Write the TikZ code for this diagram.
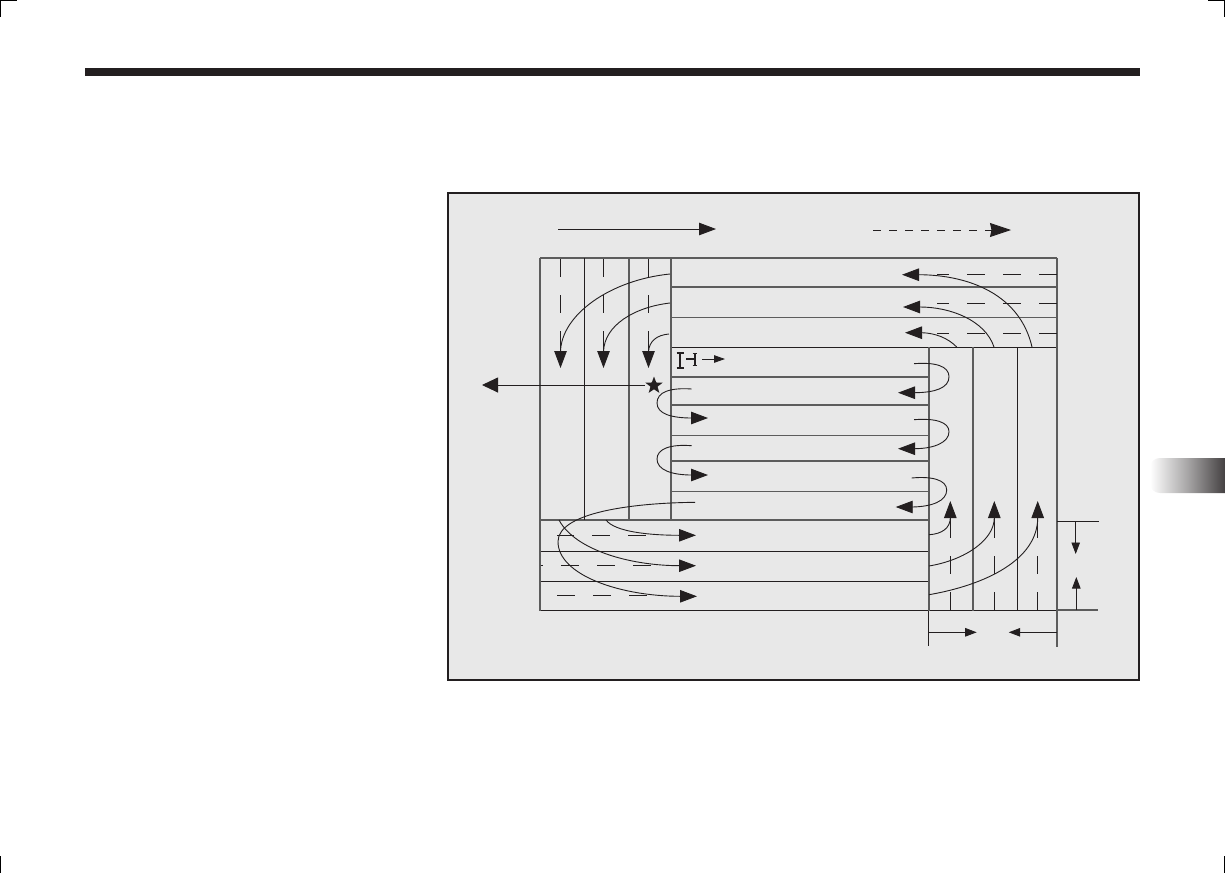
\documentclass[tikz,border=0pt]{standalone}
\usetikzlibrary{arrows.meta,shapes.geometric}
\definecolor{panelbg}{HTML}{E8E8E8}
\definecolor{ink}{HTML}{231F20}
\definecolor{gridgrey}{HTML}{5C5C5C}
\tikzset{
  thinline/.style={draw=ink,line width=0.9pt},
  greyline/.style={draw=gridgrey,line width=1.1pt},
  flow/.style={draw=ink,line width=0.9pt,-{Triangle[length=17pt,width=12.5pt]}},
  bigflow/.style={draw=ink,line width=0.9pt,-{Triangle[length=16pt,width=15pt]}},
  legendhead/.style={draw=ink,line width=0.9pt,-{Stealth[length=21pt,width=14pt,inset=1.5pt]}},
  smallflow/.style={draw=ink,line width=0.9pt,-{Triangle[length=11.5pt,width=8.5pt]}},
  dashline/.style={draw=ink,line width=0.9pt},
}
\begin{document}
\begin{tikzpicture}[x=1pt,y=-1pt]
\useasboundingbox (0,0) rectangle (1225,873);
% page furniture
\fill[ink] (85,68) rectangle (1140,76);
\draw[black,line width=1.2pt] (0,17) -- (0,0) -- (17,0);
\draw[black,line width=1.2pt] (1208,0) -- (1225,0) -- (1225,17);
\draw[black,line width=1.2pt] (0,856) -- (0,873);
\draw[black,line width=1.2pt] (1225,856) -- (1225,873);
\shade[left color=white,right color=ink!85,middle color=ink!40]
  (1225,458) -- (1160,458) to[out=180,in=90] (1150,467) -- (1150,484) to[out=-90,in=180] (1160,493) -- (1225,493) -- cycle;
% panel
\draw[draw=ink,line width=2pt,fill=panelbg] (448,193) rectangle (1139.3,680.3);
% grid
\foreach \y in {287,317.5,377,405,435.7,461,491.7}
  \draw[greyline] (671,\y) -- (929,\y);
\foreach \y in {287,317.5}
  \draw[greyline] (929,\y) -- (1057,\y);
\draw[greyline] (540,258) -- (1057,258);
\draw[thinline] (671,347) -- (1057,347);
\draw[greyline] (540,520) -- (929,520);
\draw[thinline] (540,551.5) -- (929,551.5);
\draw[thinline] (540,581) -- (929,581);
\draw[thinline] (540,610.5) -- (1057,610.5);
\draw[greyline] (540,258) -- (540,610.5);
\draw[thinline] (584,258) -- (584,520);
\draw[greyline] (629,258) -- (629,520);
\draw[greyline] (671,258) -- (671,520);
\draw[greyline] (929,347) -- (929,610.5);
\draw[thinline] (928.5,610.5) -- (928.5,646);
\draw[greyline] (973,347) -- (973,610.5);
\draw[thinline] (1017.7,347) -- (1017.7,610.5);
\draw[greyline] (1057,258) -- (1057,647);
\draw[thinline] (1057,521) -- (1099,521);
\draw[greyline] (1057,610) -- (1098,610);
% legend arrows
\draw[flow] (558,229) -- (716,229);
\draw[dashline] (873,230) -- (881,230) (889,230) -- (897,230) (905,230) -- (913,230) (921,230) -- (929,230) (937,230) -- (945,230) (953,230) -- (961,230) (969,230) -- (977,230);
\draw[legendhead] (985,230) -- (1011,230);
% dashes, left columns
\foreach \x in {560,603.5,648.5}
  \draw[dashline] (\x,259) -- (\x,277) (\x,295) -- (\x,313) (\x,331) -- (\x,352);
% dashes, top right
\foreach \y in {274.3,303.6,333.3}
  \draw[dashline] (937,\y) -- (949,\y) (967,\y) -- (985,\y) (1003,\y) -- (1021,\y) (1039,\y) -- (1057,\y);
% dashes, bottom left
\draw[dashline] (557,535) -- (574,535) (592,535) -- (610,535) (628,535) -- (646,535);
\draw[dashline] (540.7,565.5) -- (542.7,565.5) (561,565.5) -- (579,565.5) (597,565.5) -- (615,565.5) (633,565.5) -- (651,565.5);
\draw[dashline] (557,595.5) -- (575,595.5) (593,595.5) -- (611,595.5) (629,595.5) -- (647,595.5);
% dashes, bottom right
\foreach \x in {950.3,994.3,1037.7}
  \draw[dashline] (\x,518) -- (\x,538) (\x,556) -- (\x,574) (\x,592) -- (\x,610);
% flows into left columns
\draw[flow] (670,274) .. controls (610,280) and (561,315) .. (560.5,352) -- (560.5,368);
\draw[flow] (670,303) .. controls (635,307) and (604,325) .. (603.5,352) -- (603.5,368);
\draw[flow] (669,334) .. controls (657,335) and (649,341) .. (648.5,352) -- (648.5,368);
% flows top right
\draw[flow] (1032,347) .. controls (1020,295) and (970,275) .. (919,274.7) -- (902,274.7);
\draw[flow] (994,347) .. controls (985,320) and (950,307) .. (920,307) -- (903,307);
\draw[flow] (956.7,347) .. controls (948,338) and (935,333) .. (921.7,332.7) -- (905,332.7);
% star and exit arrow
\node[star,star points=5,star point ratio=2.4,fill=ink,inner sep=0pt,minimum size=18pt] (mark) at (654,385.5) {};
\coordinate (exitend) at (482,385);
\draw[bigflow] (645,385) -- (exitend);
% spacing symbol
\draw[draw=ink,line width=1.6pt] (680,353) -- (680,368) (676.5,353) -- (683.5,353) (676.5,368) -- (683.5,368);
\draw[draw=ink,line width=1.3pt] (686,359) -- (695,359);
\draw[draw=ink,line width=1.6pt] (695,353.5) -- (695,365.5) (692.5,353.5) -- (697,353.5) (692.5,365.5) -- (697,365.5);
\draw[draw=ink,line width=0.9pt,-{Triangle[length=11pt,width=7.5pt]}] (702,359) -- (725,359);
% return loops, left
\draw[flow] (691.7,389) .. controls (670,387.5) and (657,392) .. (657,403) .. controls (657,414) and (672,418) .. (691.7,418) -- (708,418);
\draw[flow] (691.7,445.7) .. controls (670,444) and (657,449) .. (657,459) .. controls (657,470) and (672,475) .. (691.7,475) -- (708,475);
% return loops, right
\draw[flow] (914,363.7) .. controls (935,362) and (949,366) .. (949,376.7) .. controls (949,388) and (935,392.5) .. (915,392.7) -- (898,392.7);
\draw[flow] (914,419.7) .. controls (935,418) and (949,422) .. (949,431.7) .. controls (949,442) and (935,448.5) .. (915,448.7) -- (898,448.7);
\draw[flow] (911.7,478) .. controls (932,476) and (946.7,480) .. (946.7,490) .. controls (946.7,501) and (932,506.7) .. (912,507) -- (895.7,507);
% flows bottom left
\draw[flow] (606,520) .. controls (615,532) and (650,535.3) .. (680,535.3) -- (696,535.3);
\draw[flow] (559,520) .. controls (575,550) and (630,565.7) .. (680,565.7) -- (696,565.7);
\draw[flow] (695,502.3) .. controls (630,503) and (558,513) .. (558,541.7) .. controls (558,575) and (620,596.3) .. (680.7,596.3) -- (697,596.3);
% flows bottom right
\draw[flow] (929,534.7) .. controls (942,534) and (950.3,528) .. (950.3,517.7) -- (950.3,501);
\draw[flow] (929,566) .. controls (965,560) and (994.3,540) .. (994.3,517.7) -- (994.3,501);
\draw[flow] (929,594.7) .. controls (985,585) and (1037.7,560) .. (1037.7,517.7) -- (1037.7,501);
% dimension arrows
\draw[smallflow] (1075.7,521) -- (1075.7,554);
\draw[smallflow] (1076.3,610) -- (1076.3,577);
\draw[smallflow] (929,632.3) -- (976.7,632.3);
\draw[smallflow] (1057,632.3) -- (1008.7,632.3);
\end{tikzpicture}
\end{document}
